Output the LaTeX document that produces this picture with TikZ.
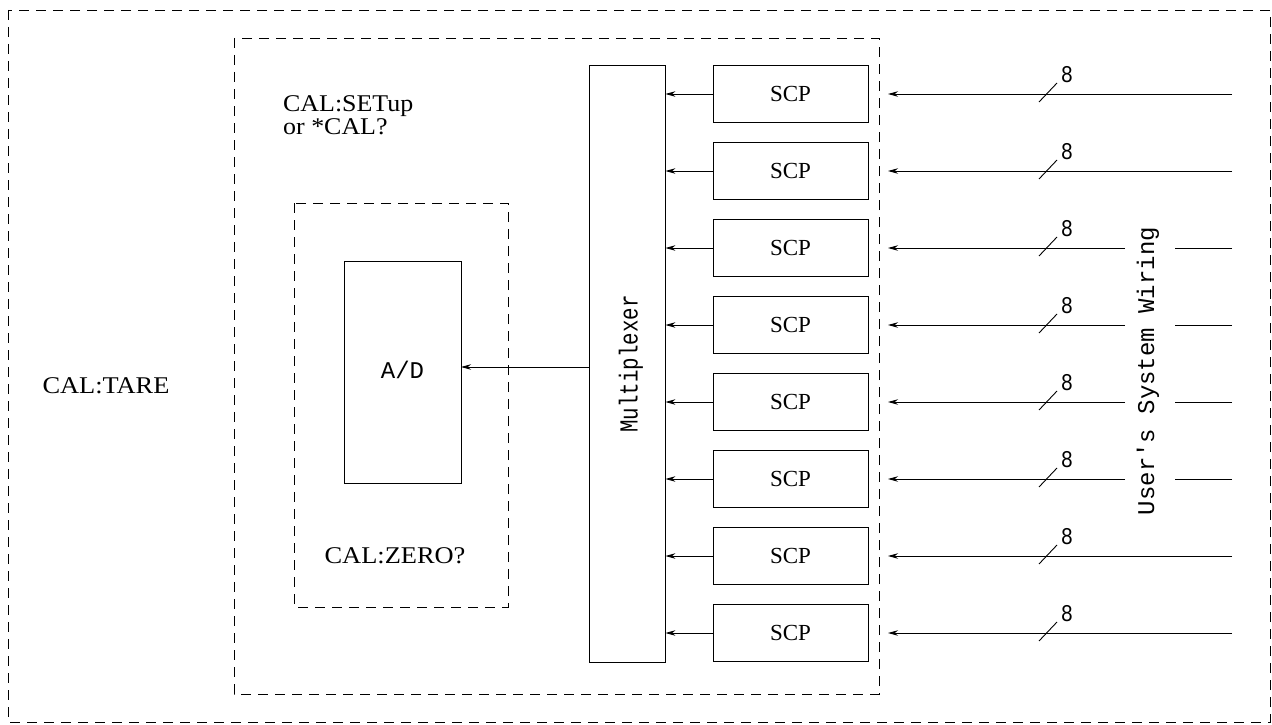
\documentclass[tikz,border=0pt]{standalone}
\usepackage{fontspec}
\setmainfont{Liberation Serif}
\newfontfamily\monof{Liberation Mono}
\usetikzlibrary{arrows.meta}
\begin{document}
\begin{tikzpicture}[x=1pt,y=-1pt,
  box/.style={draw, line width=0.85pt, inner sep=0pt},
  dashbox/.style={draw, line width=0.9pt, dash pattern=on 10pt off 7pt},
  arr/.style={-{Stealth[length=10pt,width=5.5pt]}, line width=0.9pt},
  wire/.style={line width=0.9pt},
  caltext/.style={font=\fontsize{24}{24}\selectfont, inner sep=0pt},
  scptext/.style={font=\fontsize{23}{23}\selectfont},
  monotext/.style={font=\monof\fontsize{24}{24}\selectfont, inner sep=0pt},
  numtext/.style={font=\monof\fontsize{24}{24}\selectfont, inner sep=0pt}]
\useasboundingbox (0,0) rectangle (1272,725);
% outer and inner dashed frames
\draw[dashbox] (8,10) rectangle (1270,722);
\draw[dashbox] (234,38) rectangle (879,694);
\draw[dashbox] (294,203) rectangle (508,607);
% labels
\node[caltext, anchor=west, align=left] (setup) at (283,115)
  {\scalebox{1.08}[1]{CAL:SETup}\\[-1pt]\scalebox{1.08}[1]{or *CAL?}};
\node[caltext] (tare) at (106,386) {\scalebox{1.1}[1]{CAL:TARE}};
\node[caltext] (zero) at (395,556) {\scalebox{1.1}[1]{CAL:ZERO?}};
% A/D and multiplexer
\node[box, minimum width=117pt, minimum height=222pt] (ad) at (402.5,372) {};
\node[monotext] (adlbl) at (402.5,370) {A/D};
\node[box, minimum width=76pt, minimum height=597pt] (mux) at (627,363.5) {};
\node[monotext, font=\monof\fontsize{26}{26}\selectfont, rotate=90] (muxlbl) at (631,364) {\scalebox{0.8}[1]{Multiplexer}};
\coordinate (adin) at (461,367);
\draw[arr] (mux.west |- adin) -- (adin);
% SCP channels
\foreach \i in {1,...,8} {
  \pgfmathsetmacro\ry{94+77*(\i-1)}
  \node[box, scptext, minimum width=155pt, minimum height=57pt] (scp\i) at (790.5,\ry) {SCP};
  \draw[arr] (scp\i.west) -- (scp\i.west -| mux.east);
  \coordinate (wr\i) at (1232,\ry);
  \coordinate (wl\i) at (888,\ry);
  \draw[wire] (1039,\ry+8) -- (1057,\ry-11);
  \node[numtext] (n\i) at (1067,\ry-19) {\scalebox{0.85}[1]{8}};
}
\foreach \i in {1,2,7,8} {
  \draw[arr] (wr\i) -- (wl\i);
}
\foreach \i in {3,...,6} {
  \pgfmathsetmacro\ry{94+77*(\i-1)}
  \coordinate (ga\i) at (1125,\ry);
  \coordinate (gb\i) at (1175,\ry);
  \draw[arr] (ga\i) -- (wl\i);
  \draw[wire] (wr\i) -- (gb\i);
}
\node[monotext, rotate=90] (usw) at (1148,371) {User's System Wiring};
\end{tikzpicture}
\end{document}
